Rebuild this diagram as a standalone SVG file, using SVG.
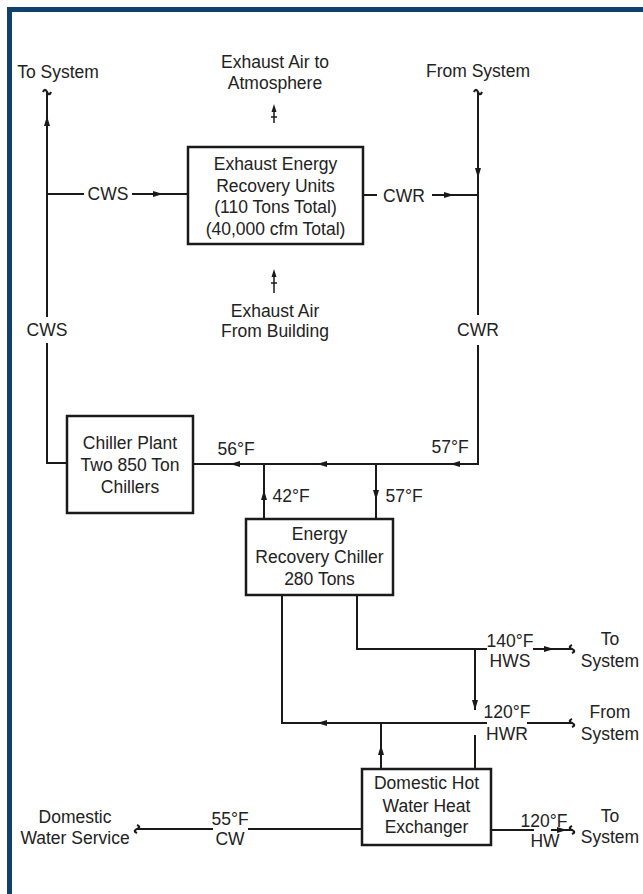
<svg xmlns="http://www.w3.org/2000/svg" width="643" height="894" viewBox="0 0 643 894">
<style>
text{font-family:"Liberation Sans",Arial,sans-serif;font-size:17.5px;fill:#222;text-anchor:middle}
.ln{stroke:#1a1a1a;stroke-width:2;fill:none}
.bx{stroke:#1a1a1a;stroke-width:2.5;fill:#fff}
.ah{fill:#1a1a1a}
.tl{stroke:#1a1a1a;stroke-width:2.2;fill:none}
</style>
<rect width="643" height="894" fill="#fff"/>
<g id="frame">
<rect x="7" y="7" width="636" height="5" fill="#11406d"/>
<rect x="7" y="7" width="5" height="887" fill="#11406d"/>
</g>
<g id="connectors">
<path class="ln" d="M47,92V317M47,343V463H67"/>
<polygon class="ah" points="47,116 44,126 50,126"/>
<path class="tl" d="M43,92c1.3,-3 2.7,-3 4,0s2.7,3 4,0"/>
<path class="ln" d="M47,194H84M132,194H188"/>
<polygon class="ah" points="163,194 153,191 153,197"/>
<path class="ln" d="M363,195H377M432,195H478"/>
<polygon class="ah" points="454,195 444,192 444,198"/>
<path class="ln" d="M478,92V315M478,345V464H193"/>
<polygon class="ah" points="478,178 475,168 481,168"/>
<path class="tl" d="M474,92c1.3,-3 2.7,-3 4,0s2.7,3 4,0"/>
<polygon class="ah" points="450,464 460,461 460,467"/>
<polygon class="ah" points="317,464 327,461 327,467"/>
<polygon class="ah" points="230,464 240,461 240,467"/>
<path class="ln" d="M376,464V519M264,519V464"/>
<polygon class="ah" points="376,500 373,490 379,490"/>
<polygon class="ah" points="264,490 261,500 267,500"/>
<path class="ln" d="M357,595V649H487M533,649H572M475,649V710"/>
<polygon class="ah" points="554,649 544,646 544,652"/>
<polygon class="ah" points="475,710 472,700 478,700"/>
<path class="tl" d="M572,645c-3,1.3 -3,2.7 0,4s3,2.7 0,4"/>
<path class="ln" d="M282,595V723H487M527,723H572M381,723V769M475,735V769"/>
<polygon class="ah" points="317,723 327,720 327,726"/>
<polygon class="ah" points="381,745 378,755 384,755"/>
<path class="tl" d="M572,719c-3,1.3 -3,2.7 0,4s3,2.7 0,4"/>
<path class="ln" d="M362,829H248M213,829H137"/>
<path class="tl" d="M137,825c3,1.3 3,2.7 0,4s-3,2.7 0,4"/>
<path class="ln" d="M491,830H534M551,830H572"/>
<polygon class="ah" points="567,830 557,827 557,833"/>
<path class="tl" d="M572,826c-3,1.3 -3,2.7 0,4s3,2.7 0,4"/>
<path class="ln" d="M274,108V123M271,117H277M274,273V293M271,283H277" style="stroke-width:1.5"/>
<polygon class="ah" points="274,104 271.5,112 276.5,112"/>
<polygon class="ah" points="274,269 271.5,277 276.5,277"/>
</g>
<g id="labels">
<text x="58" y="78">To System</text>
<text x="478" y="77">From System</text>
<text x="275" y="68">Exhaust Air to</text>
<text x="275" y="89">Atmosphere</text>
<text x="275" y="317">Exhaust Air</text>
<text x="275" y="337">From Building</text>
<text x="108" y="200">CWS</text>
<text x="404" y="202">CWR</text>
<text x="47" y="336">CWS</text>
<text x="478" y="336">CWR</text>
<text x="236" y="455">56°F</text>
<text x="450" y="453">57°F</text>
<text x="291" y="502">42°F</text>
<text x="404" y="502">57°F</text>
<text x="510" y="647">140°F</text>
<text x="510" y="667">HWS</text>
<text x="610" y="645">To</text>
<text x="610" y="667">System</text>
<text x="507" y="718">120°F</text>
<text x="507" y="740">HWR</text>
<text x="610" y="718">From</text>
<text x="610" y="740">System</text>
<text x="75" y="823">Domestic</text>
<text x="75" y="844">Water Service</text>
<text x="230" y="825">55°F</text>
<text x="230" y="845">CW</text>
<text x="544" y="827">120°F</text>
<text x="545" y="847">HW</text>
<text x="610" y="822">To</text>
<text x="610" y="843">System</text>
</g>
<g id="exhaust-units">
<rect class="bx" x="188" y="147" width="175" height="97"/>
<text x="275.5" y="170">Exhaust Energy</text>
<text x="275.5" y="191.5">Recovery Units</text>
<text x="275.5" y="213">(110 Tons Total)</text>
<text x="275.5" y="234.5">(40,000 cfm Total)</text>
</g>
<g id="chiller-plant">
<rect class="bx" x="67" y="416" width="126" height="97"/>
<text x="130" y="449">Chiller Plant</text>
<text x="130" y="471">Two 850 Ton</text>
<text x="130" y="493">Chillers</text>
</g>
<g id="energy-recovery-chiller">
<rect class="bx" x="246" y="519" width="147" height="76"/>
<text x="319.5" y="540">Energy</text>
<text x="319.5" y="563">Recovery Chiller</text>
<text x="319.5" y="585">280 Tons</text>
</g>
<g id="dhw-exchanger">
<rect class="bx" x="362" y="769" width="129" height="76"/>
<text x="426.5" y="789">Domestic Hot</text>
<text x="426.5" y="812">Water Heat</text>
<text x="426.5" y="833">Exchanger</text>
</g>
</svg>
